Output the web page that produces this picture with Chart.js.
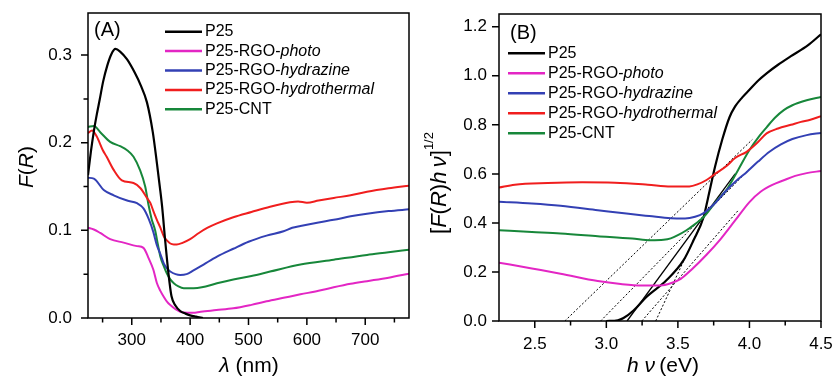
<!DOCTYPE html>
<html lang="en">
<head>
<meta charset="UTF-8">
<title>F(R) and Tauc plots</title>
<script src="https://cdn.jsdelivr.net/npm/chart.js@4"></script>
<style>
  html, body { margin: 0; padding: 0; background: #fff; }
  .wrap { position: relative; width: 835px; height: 381px; }
  #chartA { position: absolute; left: 0; top: 0; }
  #chartB { position: absolute; left: 417px; top: 0; }
</style>
</head>
<body>
<div class="wrap">
  <canvas id="chartA" width="417" height="381"></canvas>
  <canvas id="chartB" width="418" height="381"></canvas>
</div>
<script>
// ---- panel A : F(R) vs wavelength ----
const p25X_A   = [225,230,235,240,245,251,258,265,272,280,292,305,315,326,336,343,348,352,357,363,368,375,383,392,400,410,422];
const p25Y_A   = [0.163,0.19,0.213,0.232,0.249,0.27,0.288,0.301,0.307,0.304,0.295,0.28,0.266,0.246,0.212,0.177,0.15,0.127,0.09,0.05,0.025,0.014,0.008,0.005,0.003,0.0015,0];
const photoX_A = [225,235,246,263,286,309,320,329,337,343,349,355,361,366,375,383,395,405,418,445,474,505,531,560,589,620,646,675,703,740,775];
const photoY_A = [0.103,0.101,0.097,0.090,0.086,0.082,0.080,0.068,0.055,0.040,0.031,0.024,0.018,0.0148,0.010,0.0072,0.006,0.006,0.0072,0.009,0.011,0.015,0.019,0.023,0.027,0.031,0.035,0.039,0.042,0.046,0.0505];
const hydrazX_A = [225,235,252,269,292,309,320,329,337,343,349,355,361,366,375,383,394,405,423,446,474,500,531,560,575,589,620,646,675,703,740,775];
const hydrazY_A = [0.160,0.159,0.146,0.140,0.134,0.131,0.125,0.113,0.098,0.083,0.073,0.062,0.056,0.053,0.050,0.049,0.050,0.054,0.061,0.070,0.079,0.087,0.094,0.099,0.103,0.105,0.109,0.112,0.116,0.119,0.122,0.124];
const thermX_A = [225,232,240,250,257,269,283,303,315,326,332,337,343,349,355,361,366,372,377,386,400,415,430,446,474,505,537,571,585,600,620,646,675,703,740,775];
const thermY_A = [0.211,0.214,0.207,0.192,0.184,0.169,0.157,0.154,0.148,0.137,0.131,0.122,0.112,0.103,0.093,0.088,0.085,0.084,0.084,0.0855,0.090,0.097,0.103,0.108,0.115,0.121,0.127,0.132,0.133,0.1315,0.134,0.137,0.140,0.144,0.148,0.151];
const cntX_A   = [225,235,246,263,280,292,303,314,323,329,334,340,345,349,355,360,366,372,380,389,406,420,446,474,505,537,589,646,703,740,775];
const cntY_A   = [0.218,0.219,0.212,0.201,0.196,0.1915,0.184,0.169,0.150,0.128,0.113,0.100,0.083,0.070,0.059,0.051,0.044,0.0396,0.036,0.034,0.034,0.035,0.0396,0.044,0.048,0.053,0.061,0.0665,0.072,0.075,0.078];

const xMajorA = [300,400,500,600,700];
const xMinorA = [250,350,450,550,650,750];
const yMajorA = [0,0.1,0.2,0.3];
const yMinorA = [0.05,0.15,0.25];

// ---- panel B : Tauc plot ----
const p25X_B   = [3.0,3.08,3.12,3.19,3.28,3.42,3.54,3.61,3.68,3.71,3.76,3.81,3.86,3.9,3.95,4.0,4.06,4.12,4.2,4.29,4.41,4.5];
const p25Y_B   = [0,0.003,0.012,0.043,0.098,0.166,0.248,0.33,0.424,0.5,0.63,0.74,0.83,0.875,0.912,0.943,0.98,1.01,1.045,1.08,1.125,1.169];
const photoX_B = [2.25,2.48,2.68,2.94,3.1,3.25,3.38,3.45,3.52,3.6,3.7,3.8,3.9,4.0,4.08,4.16,4.24,4.32,4.4,4.5];
const photoY_B = [0.238,0.214,0.193,0.163,0.151,0.145,0.145,0.154,0.172,0.212,0.27,0.335,0.41,0.485,0.528,0.555,0.574,0.592,0.603,0.612];
const hydrazX_B = [2.25,2.48,2.68,2.94,3.14,3.3,3.45,3.55,3.62,3.68,3.75,3.84,3.92,3.98,4.06,4.14,4.22,4.3,4.4,4.5];
const hydrazY_B = [0.486,0.479,0.470,0.452,0.438,0.428,0.419,0.418,0.425,0.44,0.475,0.533,0.578,0.607,0.65,0.69,0.72,0.742,0.758,0.767];
const thermX_B = [2.25,2.36,2.59,2.83,3.06,3.29,3.45,3.58,3.64,3.70,3.76,3.84,3.9,3.98,4.06,4.12,4.2,4.29,4.36,4.42,4.5];
const thermY_B = [0.544,0.556,0.563,0.566,0.564,0.556,0.549,0.549,0.558,0.575,0.6,0.632,0.665,0.69,0.73,0.765,0.785,0.8,0.812,0.82,0.835];
const cntX_B   = [2.25,2.48,2.68,2.94,3.18,3.31,3.4,3.45,3.5,3.56,3.62,3.68,3.77,3.84,3.92,4.0,4.07,4.12,4.18,4.24,4.3,4.4,4.5];
const cntY_B   = [0.37,0.363,0.357,0.346,0.336,0.329,0.331,0.337,0.35,0.37,0.395,0.424,0.49,0.535,0.615,0.697,0.755,0.79,0.83,0.86,0.88,0.9,0.914];

// tangent (extrapolation) lines: [x0, y0, x1, y1]
const tangentLines = [
  [2.71, 0, 4.02, 0.74],
  [2.96, 0, 4.0, 0.62],
  [3.145, 0, 3.9, 0.60],
  [3.248, 0, 3.92, 0.45],
  [3.345, 0, 3.72, 0.47]
];
const tangentDashed = [true, true, false, true, true];

const xMajorB = [2.5,3.0,3.5,4.0,4.5];
const xMinorB = [2.75,3.25,3.75,4.25];
const yMajorB = [0,0.2,0.4,0.6,0.8,1.0,1.2];

const legendPlain  = ['P25', 'P25-RGO-', 'P25-RGO-', 'P25-RGO-', 'P25-CNT'];
const legendItalic = ['', 'photo', 'hydrazine', 'hydrothermal', ''];
const seriesColors = ['#000000', '#e326c4', '#3340b4', '#f01e1e', '#17873a'];

const FONT = '"Liberation Sans", Arial, sans-serif';

function pts(xs, ys) { return xs.map((x, i) => ({ x: x, y: ys[i] })); }

function drawRich(ctx, parts, x, y, size, align) {
  let w = 0;
  const widths = parts.map(p => {
    ctx.font = (p[1] ? 'italic ' : '') + Math.round(size * (p[2] || 1)) + 'px ' + FONT;
    const m = ctx.measureText(p[0]).width;
    w += m;
    return m;
  });
  let cx = align === 'center' ? x - w / 2 : x;
  ctx.textBaseline = 'middle';
  ctx.textAlign = 'left';
  parts.forEach((p, i) => {
    ctx.font = (p[1] ? 'italic ' : '') + Math.round(size * (p[2] || 1)) + 'px ' + FONT;
    ctx.fillText(p[0], cx, y - (p[3] || 0) * size);
    cx += widths[i];
  });
}

const decorPlugin = {
  id: 'decor',
  afterDraw(chart, args, o) {
    const { ctx, chartArea: a, scales: { x, y } } = chart;
    ctx.save();
    ctx.strokeStyle = '#000';
    ctx.fillStyle = '#000';
    ctx.lineWidth = 1.5;
    ctx.strokeRect(a.left, a.top, a.right - a.left, a.bottom - a.top);
    ctx.beginPath();
    o.xMajor.forEach(v => { const p = x.getPixelForValue(v); ctx.moveTo(p, a.bottom); ctx.lineTo(p, a.bottom + 7); });
    o.xMinor.forEach(v => { const p = x.getPixelForValue(v); ctx.moveTo(p, a.bottom); ctx.lineTo(p, a.bottom + 4.5); });
    o.yMajor.forEach(v => { const p = y.getPixelForValue(v); ctx.moveTo(a.left, p); ctx.lineTo(a.left - 7, p); });
    o.yMinor.forEach(v => { const p = y.getPixelForValue(v); ctx.moveTo(a.left, p); ctx.lineTo(a.left - 4.5, p); });
    ctx.stroke();

    // panel tag
    drawRich(ctx, [[o.tag, false]], o.tagX, o.tagY, 20, 'left');

    // legend
    const L = o.legend;
    for (let i = 0; i < legendPlain.length; i++) {
      const yy = L.y + i * L.dy;
      ctx.strokeStyle = seriesColors[i];
      ctx.lineWidth = 2.5;
      ctx.beginPath();
      ctx.moveTo(L.x, yy);
      ctx.lineTo(L.x + L.len, yy);
      ctx.stroke();
      drawRich(ctx, [[legendPlain[i], false], [legendItalic[i], true]], L.x + L.len + 3, yy, 16, 'left');
    }

    // axis titles
    drawRich(ctx, o.xTitle, o.xTitleX, o.xTitleY, 21, 'center');
    ctx.translate(o.yTitleX, o.yTitleY);
    ctx.rotate(-Math.PI / 2);
    drawRich(ctx, o.yTitle, 0, 0, o.yTitleSize, 'center');
    ctx.restore();
  }
};

function lineSet(data, color, width, dash) {
  return {
    data: data,
    borderColor: color,
    borderWidth: width,
    borderDash: dash || [],
    pointRadius: 0,
    fill: false,
    cubicInterpolationMode: 'monotone'
  };
}

function noPad(s) { s.paddingTop = 0; s.paddingBottom = 0; s.paddingLeft = 0; s.paddingRight = 0; }

function makeChart(id, datasets, xr, yr, xMajor, yMajor, fmt, pad, yWidth, xHeight, yPad, xPad, decor) {
  return new Chart(document.getElementById(id), {
    type: 'line',
    data: { datasets: datasets },
    options: {
      responsive: false,
      animation: false,
      layout: { padding: pad },
      plugins: { legend: { display: false }, tooltip: { enabled: false }, decor: decor },
      scales: {
        x: {
          type: 'linear', min: xr[0], max: xr[1],
          afterBuildTicks: s => { s.ticks = xMajor.map(v => ({ value: v })); },
          afterFit: s => { s.height = xHeight; noPad(s); },
          grid: { display: false, drawTicks: false, tickLength: 0 },
          border: { display: false },
          ticks: { color: '#000', padding: xPad, maxRotation: 0, font: { family: FONT, size: 17 },
                   callback: v => fmt.x(v) }
        },
        y: {
          type: 'linear', min: yr[0], max: yr[1],
          afterBuildTicks: s => { s.ticks = yMajor.map(v => ({ value: v })); },
          afterFit: s => { s.width = yWidth; noPad(s); },
          grid: { display: false, drawTicks: false, tickLength: 0 },
          border: { display: false },
          ticks: { color: '#000', padding: yPad, font: { family: FONT, size: 17 },
                   callback: v => fmt.y(v) }
        }
      }
    },
    plugins: [decorPlugin]
  });
}

const setsA = [
  lineSet(pts(p25X_A, p25Y_A), seriesColors[0], 2.2),
  lineSet(pts(photoX_A, photoY_A), seriesColors[1], 2),
  lineSet(pts(hydrazX_A, hydrazY_A), seriesColors[2], 2),
  lineSet(pts(thermX_A, thermY_A), seriesColors[3], 2),
  lineSet(pts(cntX_A, cntY_A), seriesColors[4], 2)
];

const setsB = [
  lineSet(pts(photoX_B, photoY_B), seriesColors[1], 2),
  lineSet(pts(hydrazX_B, hydrazY_B), seriesColors[2], 2),
  lineSet(pts(thermX_B, thermY_B), seriesColors[3], 2),
  lineSet(pts(cntX_B, cntY_B), seriesColors[4], 2)
];
tangentLines.forEach((t, i) => {
  const ds = lineSet([{ x: t[0], y: t[1] }, { x: t[2], y: t[3] }], '#000', tangentDashed[i] ? 1 : 1.3,
    tangentDashed[i] ? [2, 2] : []);
  ds.cubicInterpolationMode = 'default';
  setsB.push(ds);
});
setsB.push(lineSet(pts(p25X_B, p25Y_B), seriesColors[0], 2.2));

makeChart('chartA', setsA, [225, 775], [0, 0.348], xMajorA, yMajorA,
  { x: v => String(v), y: v => v.toFixed(1) },
  { top: 13, right: 8, left: 0, bottom: 0 }, 88, 63, 16, 12,
  {
    xMajor: xMajorA, xMinor: xMinorA, yMajor: yMajorA, yMinor: yMinorA,
    tag: '(A)', tagX: 94, tagY: 30,
    legend: { x: 165, y: 31.7, dy: 19.4, len: 37 },
    xTitle: [['\u03bb', true], [' (nm)', false]], xTitleX: 249, xTitleY: 366,
    yTitle: [['F', true], ['(', false], ['R', true], [')', false]], yTitleX: 27, yTitleY: 167, yTitleSize: 21
  });

makeChart('chartB', setsB, [2.25, 4.5], [0, 1.252], xMajorB, yMajorB,
  { x: v => v.toFixed(1), y: v => v.toFixed(1) },
  { top: 14, right: 14, left: 0, bottom: 0 }, 82, 60, 12, 13,
  {
    xMajor: xMajorB, xMinor: xMinorB, yMajor: yMajorB, yMinor: [],
    tag: '(B)', tagX: 93, tagY: 33,
    legend: { x: 91, y: 53.3, dy: 20, len: 37 },
    xTitle: [['h', true], [' ', false], ['\u03bd', true], ['\u2009(eV)', false]], xTitleX: 246, xTitleY: 366,
    yTitle: [['[', false], ['F', true], ['(', false], ['R', true], [')', false], ['h', true], ['\u2009', false],
             ['\u03bd', true], [']', false], ['1/2', false, 0.6, 0.5]],
    yTitleX: 23, yTitleY: 183, yTitleSize: 22
  });
</script>
</body>
</html>
